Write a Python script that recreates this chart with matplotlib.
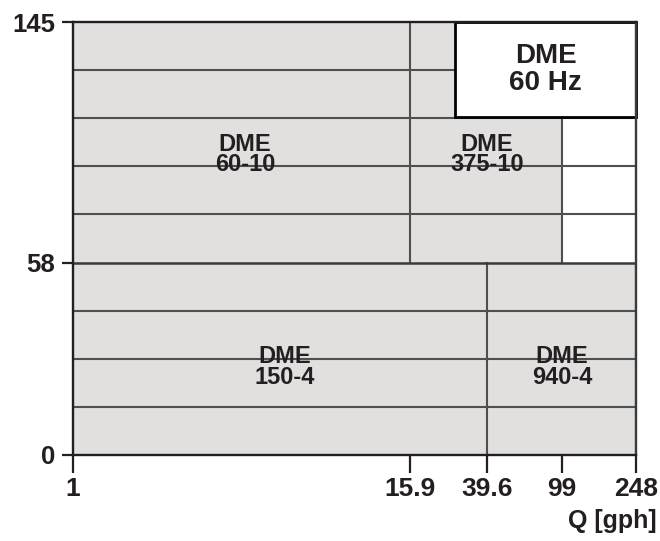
import numpy as np
import matplotlib
matplotlib.use("Agg")
import matplotlib.pyplot as plt
from matplotlib.patches import Rectangle

plt.rcParams['font.family'] = ['Liberation Sans', 'DejaVu Sans']
plt.rcParams['font.weight'] = 'bold'

# ---- data ----
x_ticks = [1, 15.9, 39.6, 99, 248]
x_tick_labels = ['1', '15.9', '39.6', '99', '248']
y_ticks = [0, 58, 145]
y_tick_labels = ['0', '58', '145']

region_names = ['DME\n60-10', 'DME\n375-10', 'DME\n150-4', 'DME\n940-4']
region_q_min = [1, 15.9, 1, 39.6]
region_q_max = [15.9, 99, 39.6, 248]
region_h_min = [58, 58, 0, 0]
region_h_max = [145, 145, 58, 58]
label_q = [4.1, 39.6, 5.7, 99]
label_h = [97, 97, 26.5, 26.5]

box_text = 'DME\n60 Hz'

# ---- schematic (piecewise) scales ----
x_break_pos = [0, 337, 414, 489, 563]
y_break_pos = [0, 4, 9]
lx = np.log10(x_ticks)


def fx(v):
    v = np.asarray(v, dtype=float)
    return np.interp(np.log10(np.clip(v, 1e-6, None)), lx, x_break_pos)


def ix(p):
    return 10 ** np.interp(np.asarray(p, dtype=float), x_break_pos, lx)


def fy(v):
    return np.interp(np.asarray(v, dtype=float), y_ticks, y_break_pos)


def iy(p):
    return np.interp(np.asarray(p, dtype=float), y_break_pos, y_ticks)


fig = plt.figure(figsize=(6.6, 5.41), dpi=100)
ax = fig.add_axes([73 / 660, (541 - 455) / 541, (636 - 73) / 660, (455 - 22) / 541])
ax.set_xscale('function', functions=(fx, ix))
ax.set_yscale('function', functions=(fy, iy))
ax.set_xlim(1, 248)
ax.set_ylim(0, 145)

fill = '#e1e0df'
line_c = '#4f4f4f'
dark = '#231f20'

for name, q0, q1, h0, h1, lq, lh in zip(region_names, region_q_min, region_q_max,
                                        region_h_min, region_h_max, label_q, label_h):
    ax.fill_between([q0, q1], h0, h1, facecolor=fill, edgecolor='none', zorder=1)
    ax.plot([q1, q1], [h0, h1], color=line_c, lw=1.5, zorder=3)
    ax.text(lq, lh, name, ha='center', va='center', fontsize=17,
            fontweight='bold', color=dark, linespacing=0.85, zorder=4)

# horizontal grid lines (5 bands above 58, 4 bands below)
grid_upper = np.linspace(58, 145, 6)[1:-1]
grid_lower = np.linspace(0, 58, 5)[1:-1]
for g in list(grid_upper) + list(grid_lower):
    ax.axhline(g, color=line_c, lw=1.5, zorder=2)
ax.axhline(58, color='#3a3a3a', lw=1.8, zorder=3)

# legend-like box
bx0 = (455 - 73) / 563
by0 = (455 - 117) / 433
ax.add_patch(Rectangle((bx0, by0), 1 - bx0, 1 - by0, transform=ax.transAxes,
                       facecolor='white', edgecolor='black', lw=2, zorder=5,
                       clip_on=False))
ax.text((bx0 + 1) / 2, (by0 + 1) / 2, box_text, transform=ax.transAxes,
        ha='center', va='center', fontsize=20, fontweight='bold', color=dark,
        linespacing=1.05, zorder=6)

for s in ax.spines.values():
    s.set_color(dark)
    s.set_linewidth(1.7)
    s.set_zorder(7)
ax.spines['right'].set_color('#3a3a3a')

ax.set_xticks(x_ticks)
ax.set_xticklabels(x_tick_labels)
ax.set_yticks(y_ticks)
ax.set_yticklabels(y_tick_labels)
ax.minorticks_off()
ax.tick_params(axis='x', length=13, width=1.6, pad=3, labelsize=19, colors=dark)
ax.tick_params(axis='y', length=8, width=1.6, pad=5, labelsize=18.5, colors=dark)
for t in ax.get_xticklabels() + ax.get_yticklabels():
    t.set_fontweight('bold')

fig.text(657 / 660, (541 - 521) / 541, 'Q [gph]', ha='right', va='center',
         fontsize=18, fontweight='bold', color=dark)

fig.savefig('out.png', dpi=100)
